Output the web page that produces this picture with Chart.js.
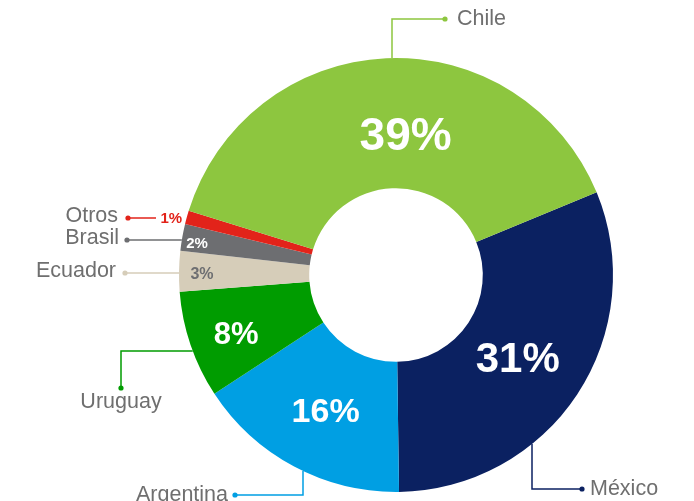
<!DOCTYPE html>
<html>
<head>
<meta charset="utf-8">
<script src="https://cdn.jsdelivr.net/npm/chart.js@4.4.0/dist/chart.umd.min.js"></script>
<style>
  html, body { margin: 0; padding: 0; background: #fff; overflow: hidden; }
</style>
</head>
<body>
<canvas id="myChart" width="694" height="501"></canvas>
<script>
// datos
const paises = ["México", "Argentina", "Uruguay", "Ecuador", "Brasil", "Otros", "Chile"];
const porcentajes = [31, 16, 8, 3, 2, 1, 39];
const colores = ["#0b2161", "#009fe3", "#009c00", "#d6cdb9", "#6d6e71", "#e2231a", "#8dc63f"];

// estilo de los porcentajes (radio desde el centro + ajuste)
const pctEstilo = [
  { r: 147, dx: -1, dy: 5, size: 42, color: "#fff" },
  { r: 152, dx: 1, dy: 3, size: 34, color: "#fff" },
  { r: 170, dx: 1, dy: 6, size: 31, color: "#fff" },
  { r: 194, dx: 0, dy: 3, size: 16, color: "#6d6e71" },
  { r: 202, dx: 0, dy: 4, size: 15, color: "#fff" },
  { r: 231, dx: -2, dy: 5, size: 15, color: "#e2231a" },
  { r: 141, dx: 16, dy: 3, size: 46, color: "#fff" }
];

// lineas guia hacia los nombres
const guias = [
  { dir: "v", at: 532, sign: 1, pts: [[532, 489], [582, 489]], tx: 590, ty: 489, align: "left" },
  { dir: "v", at: 303, sign: 1, pts: [[303, 495], [235, 495]], tx: 228, ty: 495, align: "right" },
  { dir: "h", at: 351, sign: -1, pts: [[121, 351], [121, 388]], tx: 121, ty: 402, align: "center" },
  { dir: "h", at: 273, sign: -1, pts: [[125, 273]], tx: 116, ty: 271, align: "right" },
  { dir: "h", at: 240, sign: -1, pts: [[127, 240]], tx: 119, ty: 238, align: "right" },
  { from: [156, 218], pts: [[128, 218]], tx: 118, ty: 216, align: "right" },
  { dir: "v", at: 392, sign: -1, pts: [[392, 19], [445, 19]], tx: 457, ty: 19, align: "left" }
];

const etiquetas = {
  id: "etiquetas",
  afterDatasetsDraw(chart) {
    const ctx = chart.ctx;
    const arcs = chart.getDatasetMeta(0).data;
    ctx.save();
    arcs.forEach((arc, i) => {
      const cx = arc.x, cy = arc.y, R = arc.outerRadius;
      // guia
      const g = guias[i];
      let start;
      if (g.from) {
        start = g.from;
      } else if (g.dir === "v") {
        const d = Math.sqrt(R * R - (g.at - cx) * (g.at - cx));
        start = [g.at, cy + g.sign * d];
      } else {
        const d = Math.sqrt(R * R - (g.at - cy) * (g.at - cy));
        start = [cx + g.sign * d, g.at];
      }
      ctx.strokeStyle = colores[i];
      ctx.lineWidth = 1.5;
      ctx.beginPath();
      ctx.moveTo(start[0], start[1]);
      g.pts.forEach((p) => ctx.lineTo(p[0], p[1]));
      ctx.stroke();
      const last = g.pts[g.pts.length - 1];
      ctx.fillStyle = colores[i];
      ctx.beginPath();
      ctx.arc(last[0], last[1], 2.6, 0, Math.PI * 2);
      ctx.fill();
      ctx.font = "21.5px 'Liberation Sans', Arial, sans-serif";
      ctx.fillStyle = "#6f6f6f";
      ctx.textAlign = g.align;
      ctx.textBaseline = "middle";
      ctx.fillText(paises[i], g.tx, g.ty);

      // porcentaje
      const p = pctEstilo[i];
      const mid = (arc.startAngle + arc.endAngle) / 2;
      const x = cx + Math.cos(mid) * p.r + p.dx;
      const y = cy + Math.sin(mid) * p.r + p.dy;
      ctx.font = "bold " + p.size + "px 'Liberation Sans', Arial, sans-serif";
      ctx.fillStyle = p.color;
      ctx.textAlign = "center";
      ctx.textBaseline = "middle";
      ctx.fillText(porcentajes[i] + "%", x, y);
    });
    ctx.restore();
  }
};

const config = {
  type: "doughnut",
  data: {
    labels: paises,
    datasets: [
      {
        data: porcentajes,
        backgroundColor: colores,
        borderWidth: 0,
        hoverOffset: 0
      }
    ]
  },
  options: {
    responsive: false,
    devicePixelRatio: 1,
    animation: false,
    rotation: 67.6,
    cutout: "40%",
    layout: { padding: { left: 179, top: 58, right: 81, bottom: 9 } },
    plugins: {
      legend: { display: false },
      tooltip: { enabled: false }
    },
    events: []
  },
  plugins: [etiquetas]
};

const myChart = new Chart(document.getElementById("myChart"), config);
</script>
</body>
</html>
